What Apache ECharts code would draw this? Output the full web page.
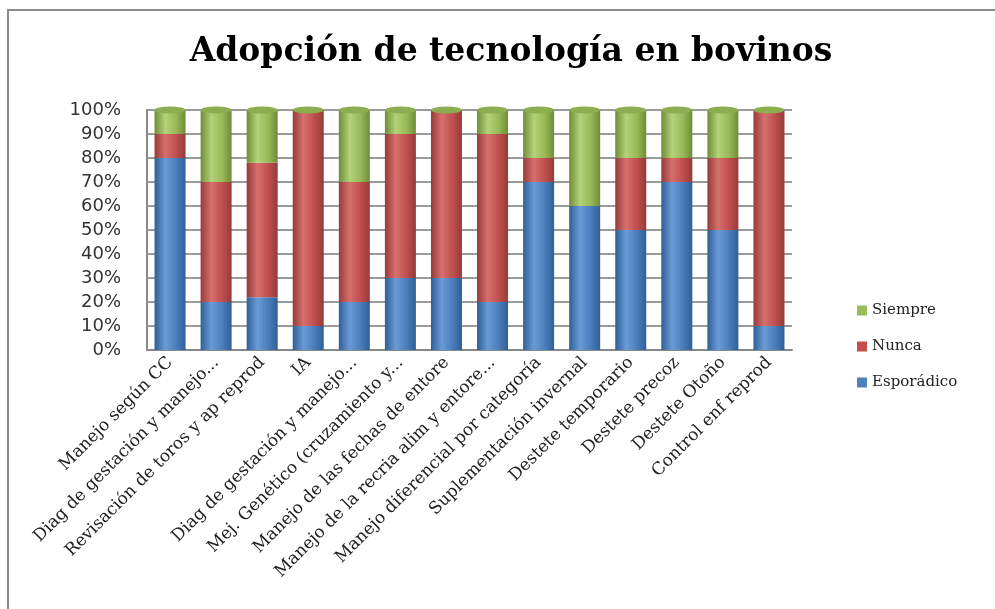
<!DOCTYPE html>
<html>
<head>
<meta charset="utf-8">
<script src="https://cdn.jsdelivr.net/npm/echarts@6/dist/echarts.min.js"></script>
<style>
  html, body { margin: 0; background: #fff; overflow: hidden; }
  #chart { position: absolute; left: 0; top: 0; width: 995px; height: 609px; }
</style>
</head>
<body>
<div id="chart"></div>
<script>
const categories = [
  'Manejo según CC',
  'Diag de gestación y manejo...',
  'Revisación de toros y ap reprod',
  'IA',
  'Diag de gestación y manejo...',
  'Mej. Genético (cruzamiento y...',
  'Manejo de las fechas de entore',
  'Manejo de la recria alim y entore...',
  'Manejo diferencial por categoría',
  'Suplementación invernal',
  'Destete temporario',
  'Destete precoz',
  'Destete Otoño',
  'Control enf reprod'
]
const esporadico = [80, 20, 22, 10, 20, 30, 30, 20, 70, 60, 50, 70, 50, 10]
const nunca = [10, 50, 56, 90, 50, 60, 70, 70, 10, 0, 30, 10, 30, 90]
const siempre = [10, 30, 22, 0, 30, 10, 0, 10, 20, 40, 20, 20, 20, 0]
const capValues = categories.map(() => 100)

// cylinder shading
function cyl(dark, mid, light) {
  return new echarts.graphic.LinearGradient(0, 0, 1, 0, [
    { offset: 0, color: dark },
    { offset: 0.35, color: light },
    { offset: 0.7, color: mid },
    { offset: 1, color: dark }
  ])
}

const chart = echarts.init(document.getElementById('chart'))
const barWidth = 31

chart.setOption({
  animation: false,
  // chart frame, only left and top edges are visible in the original
  graphic: [{
    type: 'polyline',
    shape: { points: [[8, 620], [8, 10], [1000, 10]] },
    style: { stroke: '#8a8a8a', lineWidth: 2, fill: null },
    silent: true
  }],
  title: {
    text: 'Adopción de tecnología en bovinos',
    left: 506,
    textAlign: 'center',
    top: 31,
    textStyle: { fontFamily: 'DejaVu Serif', fontWeight: 'bold', fontSize: 33, color: '#000' }
  },
  legend: {
    data: [
      { name: 'Siempre', itemStyle: { color: '#9bbb59' } },
      { name: 'Nunca', itemStyle: { color: '#c0504d' } },
      { name: 'Esporádico', itemStyle: { color: '#4f81bd' } }
    ],
    orient: 'vertical',
    left: 852,
    top: 298,
    itemWidth: 10,
    itemHeight: 10,
    itemGap: 21,
    icon: 'rect',
    textStyle: { fontFamily: 'DejaVu Serif', fontSize: 15, color: '#222' }
  },
  grid: { left: 147, right: 203, top: 110, bottom: 259 },
  xAxis: {
    type: 'category',
    data: categories,
    axisTick: { show: false },
    axisLine: { lineStyle: { color: '#888', width: 2 } },
    axisLabel: {
      rotate: 45,
      interval: 0,
      margin: 10,
      fontFamily: 'DejaVu Serif',
      fontSize: 17,
      color: '#222'
    }
  },
  yAxis: {
    type: 'value',
    min: 0,
    max: 100,
    interval: 10,
    axisLine: { show: true, lineStyle: { color: '#888', width: 2 } },
    axisLabel: {
      formatter: '{value}%',
      margin: 26,
      fontFamily: 'DejaVu Sans',
      fontSize: 18,
      color: '#333'
    },
    splitLine: { lineStyle: { color: '#7a7a7a', width: 1.5 } }
  },
  series: [
    {
      name: 'Esporádico', type: 'bar', stack: 'total', barWidth: barWidth,
      itemStyle: { color: cyl('#2f5f96', '#4a7dbb', '#6a9bd6') },
      data: esporadico
    },
    {
      name: 'Nunca', type: 'bar', stack: 'total', barWidth: barWidth,
      itemStyle: { color: cyl('#963b39', '#bf4f4c', '#d6706d') },
      data: nunca
    },
    {
      name: 'Siempre', type: 'bar', stack: 'total', barWidth: barWidth,
      itemStyle: { color: cyl('#6f8c37', '#97b957', '#b4d27a') },
      data: siempre
    },
    {
      name: 'cap', type: 'pictorialBar', symbol: 'circle',
      symbolSize: [barWidth, 7], symbolPosition: 'end', symbolOffset: [0, '-50%'],
      barGap: '-100%', z: 5, silent: true,
      itemStyle: { color: '#8cae50' },
      data: capValues
    }
  ]
})
</script>
</body>
</html>
